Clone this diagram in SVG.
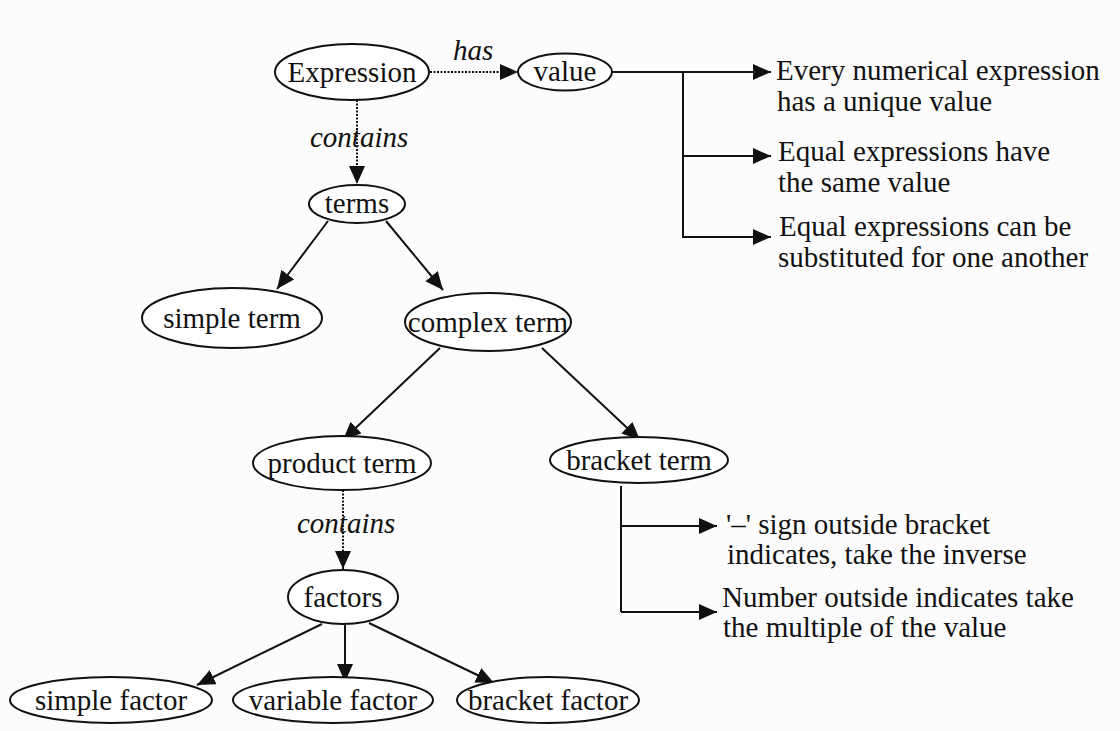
<svg xmlns="http://www.w3.org/2000/svg" width="1120" height="731" viewBox="0 0 1120 731">
<style>
.n{fill:#fff;stroke:#111;stroke-width:2}
.t{font-family:"Liberation Serif","Times New Roman",serif;font-size:29px;fill:#111}
.c{text-anchor:middle}
.i{font-style:italic}
.e{stroke:#111;stroke-width:2;fill:none}
.d{stroke:#111;stroke-width:2;fill:none;stroke-dasharray:2,1.5}
.a{marker-end:url(#ah)}
</style>
<defs>
<marker id="ah" markerUnits="userSpaceOnUse" markerWidth="19" markerHeight="17" refX="18" refY="8" orient="auto">
<path d="M0,0 L18,8 L0,16 z" fill="#111"/>
</marker>
</defs>
<rect width="1120" height="731" fill="#fcfcfc"/>
<g id="connectors">
<line class="d a" x1="430" y1="72" x2="518" y2="72"/>
<text class="t i" x="453" y="60">has</text>
<line class="d a" x1="357" y1="100" x2="357" y2="184"/>
<text class="t i" x="310" y="147">contains</text>
<line class="e a" x1="328" y1="221" x2="277" y2="289"/>
<line class="e a" x1="386" y1="221" x2="443" y2="290"/>
<line class="e a" x1="440" y1="348" x2="343" y2="440"/>
<line class="e a" x1="542" y1="348" x2="640" y2="440"/>
<line class="d a" x1="343" y1="490" x2="343" y2="569"/>
<text class="t i" x="297" y="533">contains</text>
<line class="e a" x1="322" y1="624" x2="197" y2="685"/>
<line class="e a" x1="345" y1="625" x2="345" y2="682"/>
<line class="e a" x1="369" y1="623" x2="494" y2="683"/>
<line class="e a" x1="612" y1="72" x2="771" y2="72"/>
<polyline class="e" points="683,72 683,237 753,237"/>
<line class="e a" x1="683" y1="156" x2="771" y2="156"/>
<line class="e a" x1="683" y1="237" x2="771" y2="237"/>
<polyline class="e" points="621,486 621,612"/>
<line class="e a" x1="621" y1="526" x2="717" y2="526"/>
<line class="e a" x1="621" y1="612" x2="717" y2="612"/>
</g>
<g id="node-expression"><ellipse class="n" cx="352" cy="72" rx="77" ry="28"/><text class="t c" x="352" y="82">Expression</text></g>
<g id="node-value"><ellipse class="n" cx="565" cy="72" rx="47" ry="18.5"/><text class="t c" x="565" y="81">value</text></g>
<g id="node-terms"><ellipse class="n" cx="357" cy="204" rx="48" ry="19"/><text class="t c" x="357" y="213">terms</text></g>
<g id="node-simple-term"><ellipse class="n" cx="232" cy="318" rx="90" ry="30"/><text class="t c" x="232" y="328">simple term</text></g>
<g id="node-complex-term"><ellipse class="n" cx="488" cy="322" rx="83" ry="29"/><text class="t c" x="488" y="332">complex term</text></g>
<g id="node-product-term"><ellipse class="n" cx="342" cy="463" rx="89" ry="27"/><text class="t c" x="342" y="473">product term</text></g>
<g id="node-bracket-term"><ellipse class="n" cx="639" cy="460" rx="89" ry="23"/><text class="t c" x="639" y="470">bracket term</text></g>
<g id="node-factors"><ellipse class="n" cx="343" cy="597" rx="55" ry="27"/><text class="t c" x="343" y="607">factors</text></g>
<g id="node-simple-factor"><ellipse class="n" cx="111" cy="700" rx="101" ry="23"/><text class="t c" x="111" y="710">simple factor</text></g>
<g id="node-variable-factor"><ellipse class="n" cx="333" cy="700" rx="100" ry="23"/><text class="t c" x="333" y="710">variable factor</text></g>
<g id="node-bracket-factor"><ellipse class="n" cx="548" cy="700" rx="91" ry="23"/><text class="t c" x="548" y="710">bracket factor</text></g>
<g id="note-value-1"><text class="t" x="776" y="80">Every numerical expression</text><text class="t" x="777" y="111">has a unique value</text></g>
<g id="note-value-2"><text class="t" x="778" y="161">Equal expressions have</text><text class="t" x="778" y="192">the same value</text></g>
<g id="note-value-3"><text class="t" x="779" y="236">Equal expressions can be</text><text class="t" x="778" y="267">substituted for one another</text></g>
<g id="note-bracket-1"><text class="t" x="726" y="534">'–' sign outside bracket</text><text class="t" x="727" y="564">indicates, take the inverse</text></g>
<g id="note-bracket-2"><text class="t" x="722" y="607">Number outside indicates take</text><text class="t" x="723" y="637">the multiple of the value</text></g>
</svg>
